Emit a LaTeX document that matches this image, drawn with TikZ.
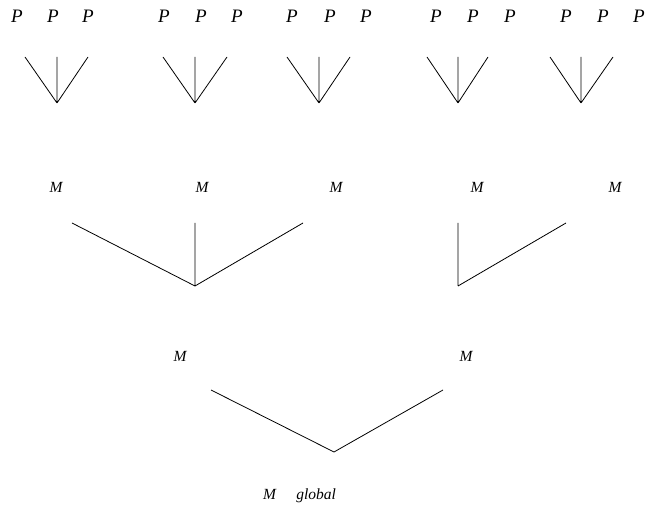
\documentclass[tikz,border=0pt]{standalone}
\usepackage{fontspec}
\setmainfont{Liberation Serif}
\begin{document}
\begin{tikzpicture}[x=1pt,y=-1pt,
  plab/.style={anchor=base,inner sep=0pt,font=\fontsize{19}{21}\selectfont\itshape},
  mlab/.style={anchor=base,inner sep=0pt,font=\fontsize{15.5}{17}\selectfont\itshape},
  link/.style={line width=0.8pt,black}]
\useasboundingbox (0,0) rectangle (646,505);
% P labels
\foreach \x [count=\i] in {17,53,88,164,201,237,292,330,366,436,473,510,566,603,639}
  \node[plab] (p\i) at (\x,23) {P};
% level-1 forks
\foreach \l/\c/\r [count=\g] in {25/57/88,163/195/227,287/319/350,427/458/488,550/581/613}{
  \coordinate (va\g) at (\l,57);
  \coordinate (vb\g) at (\c,57);
  \coordinate (vc\g) at (\r,57);
  \coordinate (vj\g) at (\c,103);
  \draw[link] (va\g) -- (vj\g) (vb\g) -- (vj\g) (vc\g) -- (vj\g);
}
% M labels row 1
\foreach \x [count=\i] in {56,202,336,477,615}
  \node[mlab] (m\i) at (\x,193) {M};
% level-2 forks
\coordinate (wa1) at (72,223);
\coordinate (wb1) at (195,223);
\coordinate (wc1) at (303,223);
\coordinate (wj1) at (195,286);
\draw[link] (wa1) -- (wj1) (wb1) -- (wj1) (wc1) -- (wj1);
\coordinate (wb2) at (458,223);
\coordinate (wc2) at (566,223);
\coordinate (wj2) at (458,286);
\draw[link] (wb2) -- (wj2) (wc2) -- (wj2);
% M labels row 2
\node[mlab] (n1) at (180,362) {M};
\node[mlab] (n2) at (466,362) {M};
% level-3 fork
\coordinate (xa) at (211,390);
\coordinate (xc) at (443,390);
\coordinate (xj) at (334,452);
\draw[link] (xa) -- (xj) (xc) -- (xj);
% global
\node[mlab,anchor=base west] (g) at (263,499) {M\hspace{1.3em}global};
\end{tikzpicture}
\end{document}
